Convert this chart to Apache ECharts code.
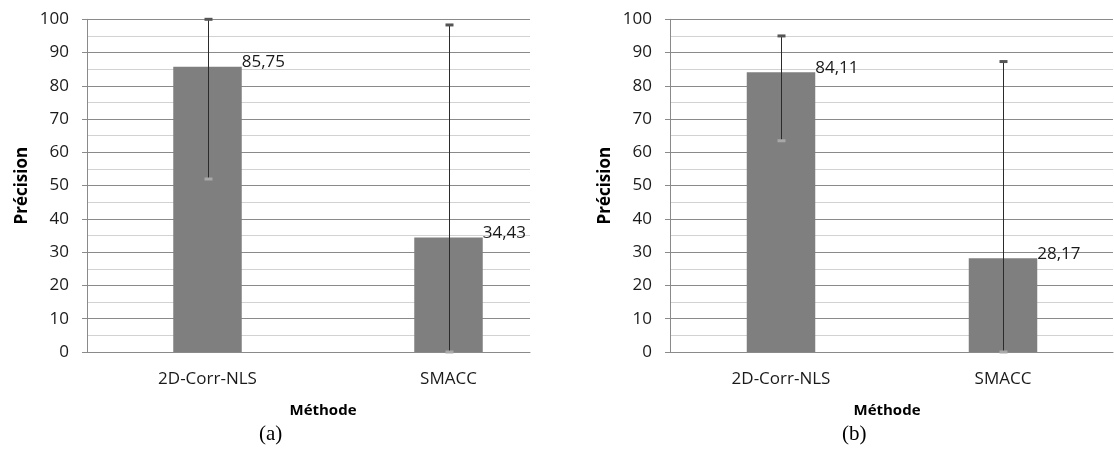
<!DOCTYPE html>
<html>
<head>
<meta charset="utf-8">
<script src="https://cdn.jsdelivr.net/npm/echarts@6/dist/echarts.min.js"></script>
<style>
html,body{margin:0;padding:0;background:#fff;}
#c{width:1114px;height:453px;}
</style>
</head>
<body>
<div id="c"></div>
<script>
// ---- data ----
const categories = ['2D-Corr-NLS', 'SMACC'];
const valuesA = [85.75, 34.43];
const errLowA = [52, 0];
const errHighA = [100, 98.3];
const valuesB = [84.11, 28.17];
const errLowB = [63.5, 0];
const errHighB = [95, 87.3];
const yTicks = [0, 10, 20, 30, 40, 50, 60, 70, 80, 90, 100];
const panelLabels = ['(a)', '(b)'];
const yTitle = 'Précision';
const xTitle = 'Méthode';

// ---- styles ----
const FONT = '"Open Sans", "Noto Sans", sans-serif';
const TXT = '#1a1a1a';
const MAJOR = '#8a8a8a';
const MINOR = '#d2d2d2';
const BAR = '#7f7f7f';

const chart = echarts.init(document.getElementById('c'), null, {renderer: 'canvas'});

const panels = [
  {left: 87, vals: valuesA, lo: errLowA, hi: errHighA},
  {left: 670, vals: valuesB, lo: errLowB, hi: errHighB}
];
const TOP = 19.3, HEIGHT = 332.7, BAR_W = 482, LINE_W = 443;

const grid = [], xAxis = [], yAxis = [], series = [], graphic = [];

panels.forEach((p, k) => {
  const gBar = grid.length;
  grid.push({left: p.left, top: TOP, width: BAR_W, height: HEIGHT});
  const gLine = grid.length;
  grid.push({left: p.left, top: TOP, width: LINE_W, height: HEIGHT});

  // bar grid axes
  xAxis.push({
    gridIndex: gBar, type: 'category', data: categories,
    axisLine: {show: false}, axisTick: {show: false},
    axisLabel: {color: TXT, fontFamily: FONT, fontSize: 17, margin: 19},
    name: xTitle, nameLocation: 'middle', nameGap: 51,
    nameTextStyle: {color: '#000', fontFamily: FONT, fontSize: 15, fontWeight: 'bold', padding: [0, 0, 0, -10]}
  });
  yAxis.push({
    gridIndex: gBar, type: 'value', min: 0, max: 100, interval: 10,
    show: false, splitLine: {show: false}
  });
  // gridline grid axes
  xAxis.push({
    gridIndex: gLine, type: 'value', min: 0, max: 1,
    axisLine: {show: true, onZero: false, lineStyle: {color: MAJOR, width: 1}},
    axisTick: {show: false}, axisLabel: {show: false}, splitLine: {show: false}
  });
  yAxis.push({
    gridIndex: gLine, type: 'value', min: yTicks[0], max: yTicks[yTicks.length - 1], interval: 10,
    axisLine: {show: true, lineStyle: {color: MAJOR, width: 1}},
    axisTick: {show: true, inside: false, length: 5, lineStyle: {color: MAJOR}},
    axisLabel: {color: TXT, fontFamily: FONT, fontSize: 17, margin: 18},
    splitLine: {show: true, lineStyle: {color: MAJOR, width: 1}},
    minorTick: {show: false, splitNumber: 2},
    minorSplitLine: {show: true, lineStyle: {color: MINOR, width: 1}},
    name: yTitle, nameLocation: 'middle', nameGap: 56, nameRotate: 90,
    nameTextStyle: {color: '#000', fontFamily: FONT, fontSize: 17, fontWeight: 'bold'}
  });

  series.push({
    type: 'bar', xAxisIndex: gBar, yAxisIndex: gBar, data: p.vals,
    barWidth: 68.5, itemStyle: {color: BAR}, z: 3,
    label: {
      show: true, position: ['100%', 0], align: 'left', verticalAlign: 'bottom',
      offset: [0, 4], color: TXT, fontFamily: FONT, fontSize: 17,
      formatter: d => String(d.value).replace('.', ',')
    }
  });
  series.push({
    type: 'custom', xAxisIndex: gBar, yAxisIndex: gBar, z: 5,
    data: categories.map((c, i) => [i, p.lo[i], p.hi[i]]),
    renderItem: (params, api) => {
      const i = api.value(0);
      const a = api.coord([i, api.value(1)]);
      const b = api.coord([i, api.value(2)]);
      const x = Math.round(a[0]) + 0.5;
      return {
        type: 'group', children: [
          {type: 'line', shape: {x1: x, y1: a[1], x2: x, y2: b[1]}, style: {stroke: '#2b2b2b', lineWidth: 1}},
          {type: 'line', shape: {x1: x - 4, y1: b[1], x2: x + 4, y2: b[1]}, style: {stroke: '#555555', lineWidth: 3}},
          {type: 'line', shape: {x1: x - 4, y1: a[1], x2: x + 4, y2: a[1]}, style: {stroke: '#a8a8a8', lineWidth: 3}}
        ]
      };
    }
  });

  graphic.push({
    type: 'text', left: p.left + 185 - 13, top: 424,
    style: {text: panelLabels[k], font: '21px "Liberation Serif", "DejaVu Serif", serif', fill: '#000'}
  });
});

chart.setOption({
  animation: false,
  backgroundColor: '#fff',
  grid, xAxis, yAxis, series, graphic
});
</script>
</body>
</html>
